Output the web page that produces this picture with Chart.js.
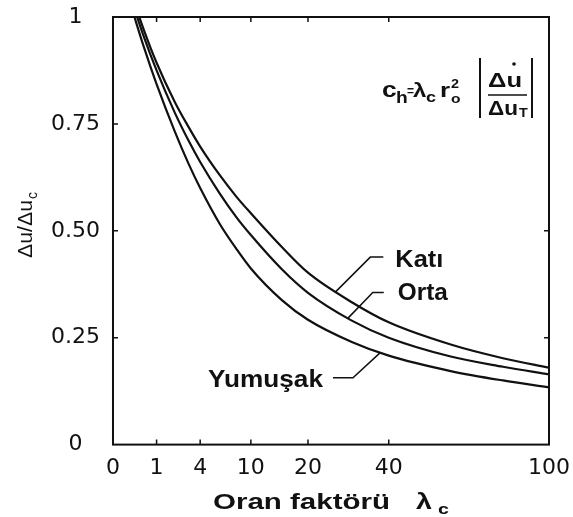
<!DOCTYPE html>
<html>
<head>
<meta charset="utf-8">
<script src="https://cdn.jsdelivr.net/npm/chart.js@4.4.1/dist/chart.umd.min.js"></script>
<style>
  html, body { margin: 0; padding: 0; background: #fff; }
  #wrap { width: 573px; height: 517px; }
</style>
</head>
<body>
<div id="wrap"><canvas id="ratioChart"></canvas></div>
<script>
// λc values where the three curves are sampled
const lambdaValues  = [0.2, 0.5, 1, 2, 3, 4, 6, 8, 10, 15, 20, 30, 40, 60, 80, 100];
const katiValues    = [1.047, 0.97, 0.893, 0.802, 0.743, 0.697, 0.63, 0.58, 0.541, 0.462, 0.402, 0.333, 0.286, 0.234, 0.202, 0.18];
const ortaValues    = [1.033, 0.954, 0.875, 0.777, 0.711, 0.661, 0.587, 0.532, 0.49, 0.41, 0.355, 0.29, 0.25, 0.206, 0.182, 0.164];
const yumusakValues = [1.015, 0.93, 0.843, 0.733, 0.657, 0.6, 0.516, 0.458, 0.412, 0.338, 0.292, 0.24, 0.208, 0.172, 0.15, 0.134];

const seriesNames  = ['Katı', 'Orta', 'Yumuşak'];
// λc where each name's leader line meets its curve
const leaderLambda = [26, 29, 37.5];

const xTickLabels = [0, 1, 4, 10, 20, 40, 100];
const yTickValues = [0, 0.25, 0.5, 0.75, 1];
const yTickLabels = ['0', '0.25', '0.50', '0.75', '1'];

// small inward tick marks on each side of the frame
const bottomMarks = [1, 4, 10, 20, 40];
const topMarks    = [1, 4, 10, 20, 40];
const leftMarks   = [0.25, 0.5, 0.75];
const rightMarks  = [0.25, 0.5];

const INK = '#111';
const SANS = '"Liberation Sans", Arial, sans-serif';

// x axis is spaced by sqrt(λc)
const toPoints = (vals) => lambdaValues.map((l, i) => ({ x: Math.sqrt(l), y: vals[i] }));

function drawText(ctx, text, x, y, font, opts = {}) {
    ctx.save();
    ctx.font = font;
    ctx.textAlign = 'left';
    ctx.textBaseline = 'alphabetic';
    const w = ctx.measureText(text).width;
    const sx = opts.width ? opts.width / w : (opts.sx || 1);
    ctx.translate(opts.align === 'right' ? x - w * sx : x, y);
    ctx.scale(sx, 1);
    ctx.fillText(text, 0, 0);
    ctx.restore();
    return w * sx;
}

const decorPlugin = {
    id: 'decor',
    afterDatasetsDraw(chart) {
        const { ctx, chartArea: a, scales: { x, y } } = chart;
        ctx.save();
        ctx.fillStyle = INK;
        ctx.strokeStyle = INK;

        // frame
        ctx.lineWidth = 2;
        ctx.strokeRect(a.left, a.top, a.right - a.left, a.bottom - a.top);

        // inward ticks
        ctx.lineWidth = 1.5;
        ctx.beginPath();
        bottomMarks.forEach(v => {
            const px = x.getPixelForValue(Math.sqrt(v));
            ctx.moveTo(px, a.bottom); ctx.lineTo(px, a.bottom - 5);
        });
        topMarks.forEach(v => {
            const px = x.getPixelForValue(Math.sqrt(v));
            ctx.moveTo(px, a.top); ctx.lineTo(px, a.top + 5);
        });
        leftMarks.forEach(v => {
            const py = y.getPixelForValue(v);
            ctx.moveTo(a.left, py); ctx.lineTo(a.left + 5, py);
        });
        rightMarks.forEach(v => {
            const py = y.getPixelForValue(v);
            ctx.moveTo(a.right, py); ctx.lineTo(a.right - 5, py);
        });
        ctx.stroke();

        // x axis title
        drawText(ctx, 'Oran faktörü', a.left + 100, a.bottom + 64, `bold 22px ${SANS}`, { width: 177 });
        drawText(ctx, 'λ', a.left + 303, a.bottom + 64, `bold 22px ${SANS}`, { sx: 1.3 });
        drawText(ctx, 'c', a.left + 325, a.bottom + 69, `bold 15px ${SANS}`, { sx: 1.3 });

        // y axis title, rotated
        ctx.save();
        ctx.translate(32, 258);
        ctx.rotate(-Math.PI / 2);
        drawText(ctx, 'Δu/Δu', 0, 0, `20px ${SANS}`, { width: 58 });
        drawText(ctx, 'c', 59, 5, `14px ${SANS}`);
        ctx.restore();

        // formula in the upper right corner
        const fx = a.right, fy = a.top;
        const B = (s) => `bold ${s}px ${SANS}`;
        drawText(ctx, 'c', fx - 167, fy + 80, B(22), { sx: 1.2 });
        drawText(ctx, 'h', fx - 153, fy + 86, B(16), { sx: 1.2 });
        drawText(ctx, '=', fx - 142, fy + 78, B(12), { sx: 1.0 });
        drawText(ctx, 'λ', fx - 136, fy + 80, B(20), { sx: 1.2 });
        drawText(ctx, 'c', fx - 123, fy + 85, B(15), { sx: 1.2 });
        drawText(ctx, 'r', fx - 109, fy + 80, B(20), { sx: 1.3 });
        drawText(ctx, '2', fx - 98, fy + 71, B(12), { sx: 1.2 });
        drawText(ctx, 'o', fx - 98, fy + 86, B(13), { sx: 1.2 });
        drawText(ctx, 'Δu', fx - 61, fy + 70, B(20), { width: 34 });
        drawText(ctx, 'Δu', fx - 61, fy + 98, B(20), { width: 30 });
        drawText(ctx, 'T', fx - 30, fy + 100, B(13), { sx: 1.1 });
        ctx.beginPath();
        ctx.arc(fx - 35, fy + 47, 1.8, 0, Math.PI * 2);
        ctx.fill();
        ctx.lineWidth = 2;
        ctx.beginPath();
        ctx.moveTo(fx - 69, fy + 41); ctx.lineTo(fx - 69, fy + 101);
        ctx.moveTo(fx - 17, fy + 41); ctx.lineTo(fx - 17, fy + 101);
        ctx.stroke();
        ctx.lineWidth = 1.5;
        ctx.beginPath();
        ctx.moveTo(fx - 61, fy + 78); ctx.lineTo(fx - 22, fy + 78);
        ctx.stroke();

        // curve names with leader lines
        const anchors = leaderLambda.map((l, i) => {
            const px = x.getPixelForValue(Math.sqrt(l));
            const line = chart.getDatasetMeta(i).dataset;
            const p = line.interpolate({ x: px }, 'x');
            return p ? { x: p.x, y: p.y } : { x: px, y: y.getPixelForValue(0) };
        });
        const legs = [
            { elbow: [35, -35], end: [48, -35], text: [60, -25], width: 48 },
            { elbow: [25, -26], end: [36, -26], text: [50, -18], width: 50 },
            { elbow: [-27, 25], end: [-47, 25], text: [-57, 34], width: 115, align: 'right' }
        ];
        ctx.lineWidth = 1.5;
        anchors.forEach((p, i) => {
            const g = legs[i];
            ctx.beginPath();
            ctx.moveTo(p.x, p.y);
            ctx.lineTo(p.x + g.elbow[0], p.y + g.elbow[1]);
            ctx.lineTo(p.x + g.end[0], p.y + g.end[1]);
            ctx.stroke();
            drawText(ctx, seriesNames[i], p.x + g.text[0], p.y + g.text[1], B(24), { width: g.width, align: g.align });
        });

        ctx.restore();
    }
};

const curveStyle = {
    borderColor: INK,
    borderWidth: 2.2,
    pointRadius: 0,
    fill: false,
    cubicInterpolationMode: 'monotone'
};

new Chart(document.getElementById('ratioChart'), {
    type: 'line',
    data: {
        datasets: [
            { label: seriesNames[0], data: toPoints(katiValues), ...curveStyle },
            { label: seriesNames[1], data: toPoints(ortaValues), ...curveStyle },
            { label: seriesNames[2], data: toPoints(yumusakValues), ...curveStyle }
        ]
    },
    options: {
        responsive: true,
        maintainAspectRatio: false,
        animation: false,
        events: [],
        layout: { padding: { left: 38, right: 24, top: 17, bottom: 26 } },
        plugins: {
            legend: { display: false },
            tooltip: { enabled: false }
        },
        scales: {
            x: {
                type: 'linear',
                min: 0,
                max: 10,
                afterBuildTicks: (scale) => {
                    scale.ticks = xTickLabels.map(v => ({ value: Math.sqrt(v) }));
                },
                // edge labels may hang past the plot, no extra room needed
                afterFit: (scale) => { scale.paddingLeft = 0; scale.paddingRight = 0; },
                grid: { display: false, drawTicks: false },
                border: { display: false },
                ticks: {
                    padding: 10,
                    autoSkip: false,
                    maxRotation: 0,
                    color: INK,
                    font: { family: 'DejaVu Sans', size: 22 },
                    callback: (v) => String(Math.round(v * v))
                }
            },
            y: {
                type: 'linear',
                min: 0,
                max: 1,
                afterBuildTicks: (scale) => {
                    scale.ticks = yTickValues.map(v => ({ value: v }));
                },
                afterFit: (scale) => { scale.paddingTop = 0; scale.paddingBottom = 0; },
                grid: { display: false, drawTicks: false },
                border: { display: false },
                ticks: {
                    padding: 13,
                    crossAlign: 'center',
                    color: INK,
                    font: { family: 'DejaVu Sans', size: 22 },
                    callback: (v, i) => yTickLabels[i]
                }
            }
        }
    },
    plugins: [decorPlugin]
});
</script>
</body>
</html>
